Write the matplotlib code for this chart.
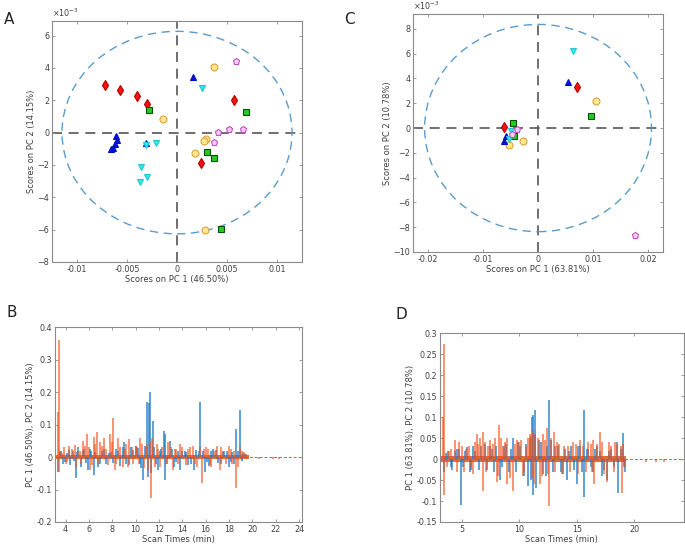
import numpy as np
import matplotlib
matplotlib.use("Agg")
import matplotlib.pyplot as plt
from matplotlib.patches import Ellipse

# ---- score plots (x = PC1, y = PC2 in 1e-3 units) ----
groups = ["red", "green", "yellow", "blue", "cyan", "violet"]

a_x = {
    "red": [-0.00717, -0.00573, -0.00403, -0.00303, 0.00567, 0.00243],
    "green": [-0.00277, 0.00687, 0.00303, 0.00367, 0.00437],
    "yellow": [-0.00143, 0.00367, 0.00293, 0.0027, 0.0018, 0.00283],
    "blue": [0.00157, -0.0061, -0.006, -0.0062, -0.0064, -0.0066, -0.0031],
    "cyan": [0.0025, -0.0031, -0.00207, -0.0036, -0.00297, -0.00373],
    "violet": [0.0059, 0.00407, 0.00523, 0.00663, 0.0037],
}
a_y = {
    "red": [2.93, 2.65, 2.24, 1.78, 2.01, -1.85],
    "green": [1.39, 1.29, -1.21, -1.6, -5.95],
    "yellow": [0.84, 4.06, -0.39, -0.53, -1.29, -6.03],
    "blue": [3.45, -0.2, -0.45, -0.7, -0.95, -1.02, -0.65],
    "cyan": [2.77, -0.76, -0.62, -2.15, -2.75, -3.04],
    "violet": [4.41, 0.06, 0.2, 0.2, -0.6],
}

c_x = {
    "red": [0.00712, -0.0061],
    "green": [0.0096, -0.00459, -0.00434],
    "yellow": [0.0105, -0.00525, -0.0027],
    "blue": [0.00549, -0.00585, -0.0061],
    "cyan": [0.00633, -0.0049, -0.0053],
    "violet": [0.0176, -0.00386, -0.0048],
}
c_y = {
    "red": [3.35, 0.08],
    "green": [0.94, 0.38, -0.67],
    "yellow": [2.22, -1.39, -1.05],
    "blue": [3.75, -0.62, -1.07],
    "cyan": [6.22, -0.27, -0.86],
    "violet": [-8.66, -0.08, -0.48],
}

# ---- loadings (spikes: time in min, loading value) ----
b_pc1_t = [3.35, 3.5, 3.8, 4.1, 4.4, 4.6, 4.9, 5.1, 5.3, 5.6, 5.95, 6.2, 6.4, 6.8, 7.1, 7.5,
           7.9, 8.3, 8.7, 9.0, 9.2, 9.6, 10.0, 10.2, 10.5, 10.65, 11.0, 11.1, 11.15, 11.26,
           11.46, 11.6, 11.9, 12.2, 12.4, 12.5, 12.55, 12.95, 13.3, 13.6, 13.8, 14.2, 14.5,
           15.0, 15.2, 15.55, 15.8, 15.95, 16.3, 16.6, 17.3, 17.6, 18.0, 18.3, 18.6, 18.95,
           19.2, 19.4]
b_pc1_v = [-0.045, 0.015, -0.02, 0.012, -0.025, 0.02, -0.065, 0.03, -0.03, 0.025, -0.04, 0.02,
           -0.055, -0.03, 0.018, -0.022, 0.015, 0.025, -0.028, 0.045, -0.02, 0.03, 0.035, 0.028,
           -0.035, -0.07, 0.17, -0.06, 0.165, 0.2, 0.11, 0.03, -0.04, 0.025, 0.08, 0.07, -0.07,
           0.05, -0.03, 0.02, -0.04, 0.018, -0.025, -0.04, 0.022, 0.17, 0.02, -0.045, -0.028,
           0.025, -0.02, 0.018, -0.03, 0.015, 0.085, 0.145, 0.012, 0.01]
b_pc1_small_t = [3.6, 3.95, 4.25, 4.75, 5.0, 5.45, 5.75, 6.05, 6.55, 6.95, 7.3, 7.7, 8.1, 8.5,
                 8.9, 9.4, 9.8, 10.35, 10.8, 11.35, 11.75, 12.05, 12.7, 13.1, 13.45, 14.0,
                 14.35, 14.75, 15.4, 16.1, 16.45, 16.9, 17.1, 17.45, 17.8, 18.15, 18.45, 18.8,
                 19.1]
b_pc1_small_v = [0.018, -0.015, 0.022, -0.012, 0.016, 0.02, -0.018, 0.024, 0.015, -0.02,
                 0.026, 0.012, -0.018, 0.02, 0.03, -0.025, 0.022, -0.02, 0.035, -0.05, -0.022,
                 0.018, -0.02, 0.025, -0.015, 0.02, 0.015, -0.02, 0.018, -0.015, 0.02, 0.022,
                 -0.018, 0.015, 0.02, -0.015, -0.02, 0.018, -0.012]

b_pc2_t = [3.35, 3.42, 3.45, 3.7, 4.0, 4.3, 4.8, 4.9, 5.2, 5.5, 5.86, 6.1, 6.4, 6.65, 6.95,
           7.3, 7.6, 7.8, 8.03, 8.2, 8.5, 8.9, 9.2, 9.45, 9.8, 10.1, 10.4, 10.7, 10.95, 11.2,
           11.3, 11.5, 11.8, 12.1, 12.8, 13.2, 13.5, 13.8, 14.3, 14.7, 14.95, 15.3, 15.5,
           15.7, 16.2, 16.5, 17.0, 17.2, 17.5, 18.0, 18.3, 18.6, 18.95, 19.3, 20.6, 21.8, 22.3]
b_pc2_v = [0.14, 0.36, -0.045, 0.012, -0.02, 0.035, 0.037, -0.03, 0.02, 0.048, 0.07, -0.04,
           0.062, 0.078, 0.045, 0.06, -0.025, 0.07, 0.12, -0.04, 0.06, -0.03, 0.04, 0.055,
           -0.02, 0.03, 0.06, -0.035, 0.04, 0.05, -0.125, 0.03, 0.04, -0.03, 0.045, -0.04,
           0.025, 0.04, -0.025, 0.03, 0.035, -0.03, 0.03, -0.08, 0.025, -0.03, 0.035, -0.04,
           0.02, 0.035, -0.02, -0.095, 0.03, 0.015, -0.005, -0.005, -0.007]
b_pc2_small_t = [3.55, 3.85, 4.15, 4.55, 5.05, 5.35, 5.7, 6.0, 6.25, 6.5, 6.8, 7.15, 7.45,
                 7.95, 8.35, 8.7, 9.05, 9.35, 9.65, 10.0, 10.25, 10.55, 10.85, 11.05, 11.4,
                 11.65, 11.95, 12.3, 12.6, 13.0, 13.35, 13.65, 14.0, 14.5, 15.1, 15.85, 16.05,
                 16.35, 16.75, 17.35, 17.75, 18.15, 18.45, 18.75, 19.15, 19.5]
b_pc2_small_v = [0.02, 0.03, -0.015, 0.025, 0.02, -0.02, 0.035, 0.03, -0.025, 0.04, -0.02,
                 0.035, 0.025, 0.045, -0.02, 0.03, 0.025, -0.03, 0.03, 0.035, -0.02, 0.04,
                 0.03, -0.04, 0.06, -0.03, 0.025, 0.03, -0.02, 0.03, 0.025, -0.02, 0.03,
                 0.025, -0.02, 0.025, 0.03, -0.025, 0.02, 0.03, -0.02, 0.025, 0.02, -0.03,
                 0.02, 0.01]

d_pc1_t = [3.45, 3.8, 4.2, 4.6, 4.94, 5.3, 5.7, 6.0, 6.5, 7.0, 7.46, 7.8, 8.33, 8.7, 9.1,
           9.5, 9.9, 10.4, 10.8, 11.1, 11.2, 11.23, 11.35, 11.5, 11.9, 12.3, 12.62, 12.9,
           13.4, 13.8, 14.13, 14.5, 15.0, 15.3, 15.6, 15.62, 16.0, 16.4, 16.8, 17.2, 17.6,
           18.0, 18.5, 18.6, 19.05, 19.2]
d_pc1_v = [-0.03, 0.02, -0.025, 0.025, -0.11, 0.02, -0.03, 0.03, -0.025, 0.035, 0.03, -0.03,
           -0.05, 0.03, -0.03, 0.05, 0.04, -0.04, -0.065, 0.1, 0.105, -0.085, 0.118, -0.07,
           0.04, -0.04, 0.14, -0.03, 0.03, -0.035, -0.05, 0.03, -0.06, 0.03, 0.118, -0.09,
           0.025, -0.03, 0.03, -0.04, -0.05, 0.025, 0.04, -0.08, 0.062, -0.03]
d_pc1_small_t = [3.65, 4.05, 4.4, 4.8, 5.15, 5.5, 5.85, 6.2, 6.7, 7.2, 7.6, 8.0, 8.5, 8.85,
                 9.3, 9.7, 10.1, 10.6, 10.95, 11.05, 11.4, 11.7, 12.1, 12.45, 12.75, 13.1,
                 13.6, 14.0, 14.35, 14.8, 15.15, 15.45, 15.85, 16.2, 16.6, 17.0, 17.4, 17.8,
                 18.2, 18.8, 19.1]
d_pc1_small_v = [0.015, -0.02, 0.018, 0.025, -0.02, 0.028, -0.025, 0.02, 0.03, -0.025, 0.025,
                 0.03, -0.02, 0.035, 0.025, -0.03, 0.03, 0.035, 0.05, -0.05, 0.06, 0.045,
                 -0.035, 0.03, 0.045, 0.03, -0.03, 0.025, 0.02, -0.025, 0.03, -0.03, 0.025,
                 -0.02, 0.025, 0.02, -0.025, 0.02, -0.02, 0.025, -0.02]

d_pc2_t = [3.42, 3.49, 3.5, 3.9, 4.42, 4.8, 5.2, 5.6, 6.0, 6.3, 6.6, 6.83, 6.88, 7.3, 7.9,
           8.04, 8.28, 8.6, 8.9, 8.95, 9.46, 9.8, 10.3, 10.6, 10.9, 11.2, 11.25, 11.8, 12.1,
           12.4, 12.62, 12.98, 13.3, 13.7, 14.2, 14.7, 15.3, 15.8, 16.2, 16.45, 16.5, 17.03,
           17.6, 18.0, 18.33, 18.95, 19.0, 21.0, 21.9, 22.6]
d_pc2_v = [0.1, 0.275, -0.085, 0.02, 0.045, 0.04, -0.03, 0.03, -0.035, 0.06, 0.05, 0.065,
           -0.075, 0.03, 0.05, -0.055, 0.08, 0.03, 0.05, -0.06, -0.075, 0.045, -0.04, 0.03,
           0.06, 0.07, -0.06, -0.06, 0.06, 0.075, -0.112, 0.065, 0.04, -0.035, 0.03, 0.04,
           0.045, -0.03, 0.035, 0.045, -0.06, 0.065, -0.055, 0.03, 0.04, -0.08, 0.035,
           -0.008, -0.006, -0.008]
d_pc2_small_t = [3.7, 4.1, 4.6, 5.0, 5.4, 5.8, 6.15, 6.45, 7.0, 7.15, 7.5, 7.7, 8.15, 8.45,
                 8.75, 9.2, 9.6, 10.0, 10.2, 10.45, 10.75, 11.0, 11.1, 11.4, 11.6, 12.0,
                 12.25, 12.5, 12.8, 13.15, 13.5, 13.9, 14.4, 14.9, 15.1, 15.5, 15.95, 16.3,
                 16.75, 17.2, 17.4, 17.8, 18.2, 18.5, 18.8, 19.15]
d_pc2_small_v = [-0.02, 0.025, -0.03, 0.03, 0.025, -0.02, 0.04, 0.035, 0.04, -0.03, 0.045,
                 0.035, -0.04, 0.05, 0.04, -0.045, 0.035, 0.04, 0.045, -0.03, 0.05, 0.055,
                 -0.045, 0.06, 0.05, -0.04, 0.045, -0.035, 0.05, -0.03, 0.035, 0.03, -0.03,
                 0.035, -0.035, 0.03, 0.04, -0.03, 0.035, 0.04, -0.035, 0.04, -0.03, 0.035,
                 0.03, -0.02]

# noisy band around zero (start, end, half-height)
b_band = (3.2, 19.7, 0.007)
d_band = (3.2, 19.3, 0.007)

styles = {
    "red": dict(marker="d", mfc="#FF1010", mec="#B00000", ms=5.5),
    "green": dict(marker="s", mfc="#22CC22", mec="#005000", ms=4.2),
    "yellow": dict(marker="o", mfc="#FFE98A", mec="#E0A040", ms=5),
    "blue": dict(marker="^", mfc="#0010E0", mec="#0010C0", ms=5),
    "cyan": dict(marker="v", mfc="#33E8E8", mec="#20C8D0", ms=5),
    "violet": dict(marker="p", mfc="#F7CFF7", mec="#C050C0", ms=5),
}

TXT = "#404040"
SPINE = "#8a8a8a"
BLUE = "#1E7BC6"
ORANGE = "#F2531E"

plt.rcParams["font.family"] = "DejaVu Sans"

fig = plt.figure(figsize=(6.85, 5.49), dpi=100)


def style_axes(ax):
    ax.tick_params(direction="in", length=2.5, width=0.6, labelsize=5.8, colors=SPINE,
                   labelcolor=TXT, top=True, right=True, pad=2)
    for s in ax.spines.values():
        s.set_color(SPINE)
        s.set_linewidth(0.8)


def score_plot(ax, xs, ys, xlim, ylim, xticks, yticks, ell, xlabel, ylabel):
    ax.axhline(0, color="#555555", ls=(0, (6, 4)), lw=1.2, zorder=1)
    ax.axvline(0, color="#555555", ls=(0, (6, 4)), lw=1.2, zorder=1)
    ax.add_patch(Ellipse((0, 0), 2 * ell[0], 2 * ell[1], fill=False, ec="#5A9BCB",
                         ls=(0, (6, 4)), lw=1.0, zorder=1))
    for g in groups:
        ax.plot(xs[g], ys[g], ls="none", mew=0.8, zorder=3, **styles[g])
    ax.set_xlim(*xlim)
    ax.set_ylim(*ylim)
    ax.set_xticks(xticks)
    ax.set_xticklabels([("%g" % t) for t in xticks])
    ax.set_yticks(yticks)
    ax.set_xlabel(xlabel, fontsize=6, color=TXT, labelpad=1)
    ax.set_ylabel(ylabel, fontsize=6, color=TXT, labelpad=1)
    ax.text(0.0, 1.008, r"$\times10^{-3}$", transform=ax.transAxes, fontsize=5.8,
            color=TXT, ha="left", va="bottom")
    style_axes(ax)


def loading_plot(ax, t1, v1, t2, v2, band, xlim, ylim, xticks, yticks, ylabel):
    ax.plot(xlim, [0, 0], color=ORANGE, lw=0.7, ls=(0, (3, 2)), zorder=1)
    ax.fill_between([band[0], band[1]], -band[2], band[2], color="#D9541E", alpha=0.85,
                    lw=0, zorder=2)
    ax.vlines(t1, 0, v1, color=BLUE, lw=1.1, alpha=0.9, zorder=3)
    ax.vlines(t2, 0, v2, color=ORANGE, lw=1.1, alpha=0.8, zorder=4)
    ax.set_xlim(*xlim)
    ax.set_ylim(*ylim)
    ax.set_xticks(xticks)
    ax.set_yticks(yticks)
    ax.set_yticklabels([("%g" % t) for t in yticks])
    ax.set_xlabel("Scan Times (min)", fontsize=6, color=TXT, labelpad=1)
    ax.set_ylabel(ylabel, fontsize=6, color=TXT, labelpad=1)
    style_axes(ax)


axA = fig.add_axes([0.0759, 0.5228, 0.365, 0.439])
score_plot(axA, a_x, a_y, (-0.0125, 0.0125), (-8, 6.9),
           [-0.01, -0.005, 0, 0.005, 0.01], np.arange(-8, 7, 2), (0.0115, 6.26),
           "Scores on PC 1 (46.50%)", "Scores on PC 2 (14.15%)")

axC = fig.add_axes([0.603, 0.541, 0.365, 0.4335])
score_plot(axC, c_x, c_y, (-0.0227, 0.0227), (-10, 9.2),
           [-0.02, -0.01, 0, 0.01, 0.02], np.arange(-10, 9, 2), (0.0206, 8.36),
           "Scores on PC 1 (63.81%)", "Scores on PC 2 (10.78%)")

axB = fig.add_axes([0.0803, 0.0492, 0.3606, 0.355])
loading_plot(axB, b_pc1_t + b_pc1_small_t, b_pc1_v + b_pc1_small_v,
             b_pc2_t + b_pc2_small_t, b_pc2_v + b_pc2_small_v, b_band,
             (3.09, 24.26), (-0.2, 0.4), np.arange(4, 25, 2),
             [-0.2, -0.1, 0, 0.1, 0.2, 0.3, 0.4], "PC 1 (46.50%), PC 2 (14.15%)")

axD = fig.add_axes([0.6423, 0.0492, 0.356, 0.344])
loading_plot(axD, d_pc1_t + d_pc1_small_t, d_pc1_v + d_pc1_small_v,
             d_pc2_t + d_pc2_small_t, d_pc2_v + d_pc2_small_v, d_band,
             (3.12, 24.3), (-0.15, 0.3), [5, 10, 15, 20],
             [-0.15, -0.1, -0.05, 0, 0.05, 0.1, 0.15, 0.2, 0.25, 0.3],
             "PC 1 (63.81%), PC 2 (10.78%)")

for lab, x, y in [("A", 0.006, 0.965), ("C", 0.503, 0.965), ("B", 0.009, 0.43),
                  ("D", 0.578, 0.428)]:
    fig.text(x, y, lab, fontsize=11, color="#222222", ha="left", va="center")

fig.savefig("out.png", dpi=100)
